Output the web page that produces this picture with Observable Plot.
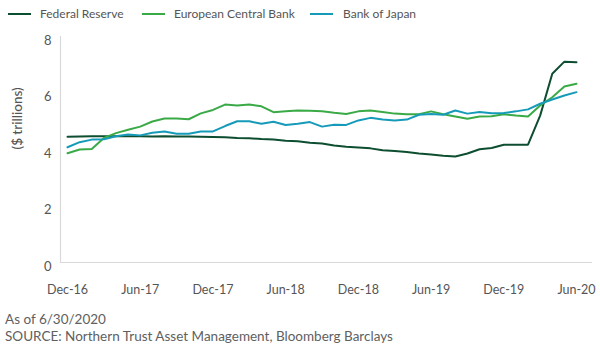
<!DOCTYPE html>
<html>
<head>
<meta charset="utf-8">
<script src="https://cdn.jsdelivr.net/npm/d3@7"></script>
<script src="https://cdn.jsdelivr.net/npm/@observablehq/plot@0.6"></script>
<style>
  html, body { margin: 0; padding: 0; background: #fff; }
  body { width: 600px; height: 348px; position: relative; overflow: hidden; font-family: Lato, "Open Sans", sans-serif; color: #555; }
  #legend { position: absolute; top: 5px; left: 0; height: 18px; font-size: 12px; }
  .item { position: absolute; top: 0; white-space: nowrap; line-height: 18px; }
  .sw { position: absolute; top: 8px; height: 2px; }
  #chart { position: absolute; top: 0; left: 0; }
  #footer { position: absolute; left: 5px; top: 311px; font-size: 13.5px; line-height: 17px; color: #606060; }
</style>
</head>
<body>
<div id="chart"></div>
<div id="legend"></div>
<div id="footer"><div>As of 6/30/2020</div><div>SOURCE: Northern Trust Asset Management, Bloomberg Barclays</div></div>
<script>
// Month labels, Dec-16 .. Jun-20 (monthly)
const months = [
  "Dec-16","Jan-17","Feb-17","Mar-17","Apr-17","May-17","Jun-17","Jul-17","Aug-17","Sep-17","Oct-17","Nov-17",
  "Dec-17","Jan-18","Feb-18","Mar-18","Apr-18","May-18","Jun-18","Jul-18","Aug-18","Sep-18","Oct-18","Nov-18",
  "Dec-18","Jan-19","Feb-19","Mar-19","Apr-19","May-19","Jun-19","Jul-19","Aug-19","Sep-19","Oct-19","Nov-19",
  "Dec-19","Jan-20","Feb-20","Mar-20","Apr-20","May-20","Jun-20"
];
const tickLabels = ["Dec-16","Jun-17","Dec-17","Jun-18","Dec-18","Jun-19","Dec-19","Jun-20"];
const seriesNames = ["Federal Reserve","European Central Bank","Bank of Japan"];
const seriesColors = ["#0d4d30","#3aaa47","#169ab9"];
const fed = [
  4.45,4.46,4.47,4.47,4.47,4.47,4.47,4.46,4.47,4.46,4.46,4.45,
  4.44,4.43,4.41,4.40,4.37,4.35,4.31,4.29,4.24,4.21,4.14,4.10,
  4.07,4.04,3.97,3.95,3.91,3.86,3.82,3.78,3.75,3.86,4.01,4.05,
  4.17,4.17,4.17,5.20,6.68,7.11,7.09
];
const ecb = [
  3.87,4.00,4.02,4.41,4.58,4.70,4.81,4.99,5.10,5.10,5.07,5.28,
  5.40,5.59,5.56,5.59,5.53,5.32,5.35,5.38,5.37,5.35,5.30,5.26,
  5.35,5.38,5.33,5.27,5.25,5.25,5.35,5.25,5.17,5.09,5.17,5.18,
  5.25,5.20,5.17,5.56,5.85,6.23,6.33
];
const boj = [
  4.08,4.26,4.35,4.36,4.47,4.53,4.50,4.59,4.64,4.56,4.56,4.64,
  4.64,4.83,5.00,5.00,4.91,4.98,4.87,4.91,4.97,4.81,4.88,4.87,
  5.03,5.12,5.06,5.03,5.06,5.23,5.26,5.23,5.38,5.27,5.33,5.28,
  5.29,5.35,5.42,5.62,5.77,5.91,6.03
];
const yTicks = [0, 2, 4, 6, 8];
const yLabel = "($ trillions)";

const allSeries = [fed, ecb, boj];
const rows = [];
allSeries.forEach((vals, s) => vals.forEach((v, i) => rows.push({i, month: months[i], value: v, series: seriesNames[s]})));
const tickIdx = tickLabels.map(t => months.indexOf(t));

const plot = Plot.plot({
  width: 600,
  height: 300,
  marginTop: 36,
  marginBottom: 38,
  marginLeft: 60,
  marginRight: 8,
  style: {fontFamily: "Lato, 'Open Sans', sans-serif", fontSize: "12.5px", color: "#555", background: "transparent"},
  x: {domain: [-0.58, 43.32], ticks: tickIdx, tickFormat: i => months[i], tickSize: 0, tickPadding: 23, label: null},
  y: {domain: [0, 8], ticks: yTicks, tickSize: 0, tickPadding: 9, label: null},
  color: {domain: seriesNames, range: seriesColors},
  marks: [
    Plot.ruleY([0], {stroke: "#d9d9d9", strokeWidth: 1.2}),
    Plot.ruleX([-0.58], {stroke: "#d9d9d9", strokeWidth: 1.2}),
    Plot.line(rows, {x: "i", y: "value", z: "series", stroke: "series", strokeWidth: 2, strokeLinejoin: "miter"}),
    Plot.axisY({ticks: yTicks, tickSize: 0, tickPadding: 9, dy: 4, fill: "#555", fontSize: 13}),
    Plot.axisX({ticks: tickIdx, tickFormat: i => months[i], tickSize: 0, tickPadding: 23, fill: "#555", fontSize: 12.5}),
    Plot.text([yLabel], {frameAnchor: "left", rotate: -90, dx: -43, dy: 0, fill: "#555", fontSize: 13.5, fontWeight: 500})
  ]
});
document.getElementById("chart").appendChild(plot);

// Legend
const legendPos = [{sw: 8, tx: 40}, {sw: 142, tx: 174}, {sw: 310, tx: 343}];
const legend = document.getElementById("legend");
seriesNames.forEach((name, k) => {
  const sw = document.createElement("div");
  sw.className = "sw";
  sw.style.left = legendPos[k].sw + "px";
  sw.style.width = "23px";
  sw.style.background = seriesColors[k];
  legend.appendChild(sw);
  const t = document.createElement("div");
  t.className = "item";
  t.style.left = legendPos[k].tx + "px";
  t.textContent = name;
  legend.appendChild(t);
});
</script>
</body>
</html>
